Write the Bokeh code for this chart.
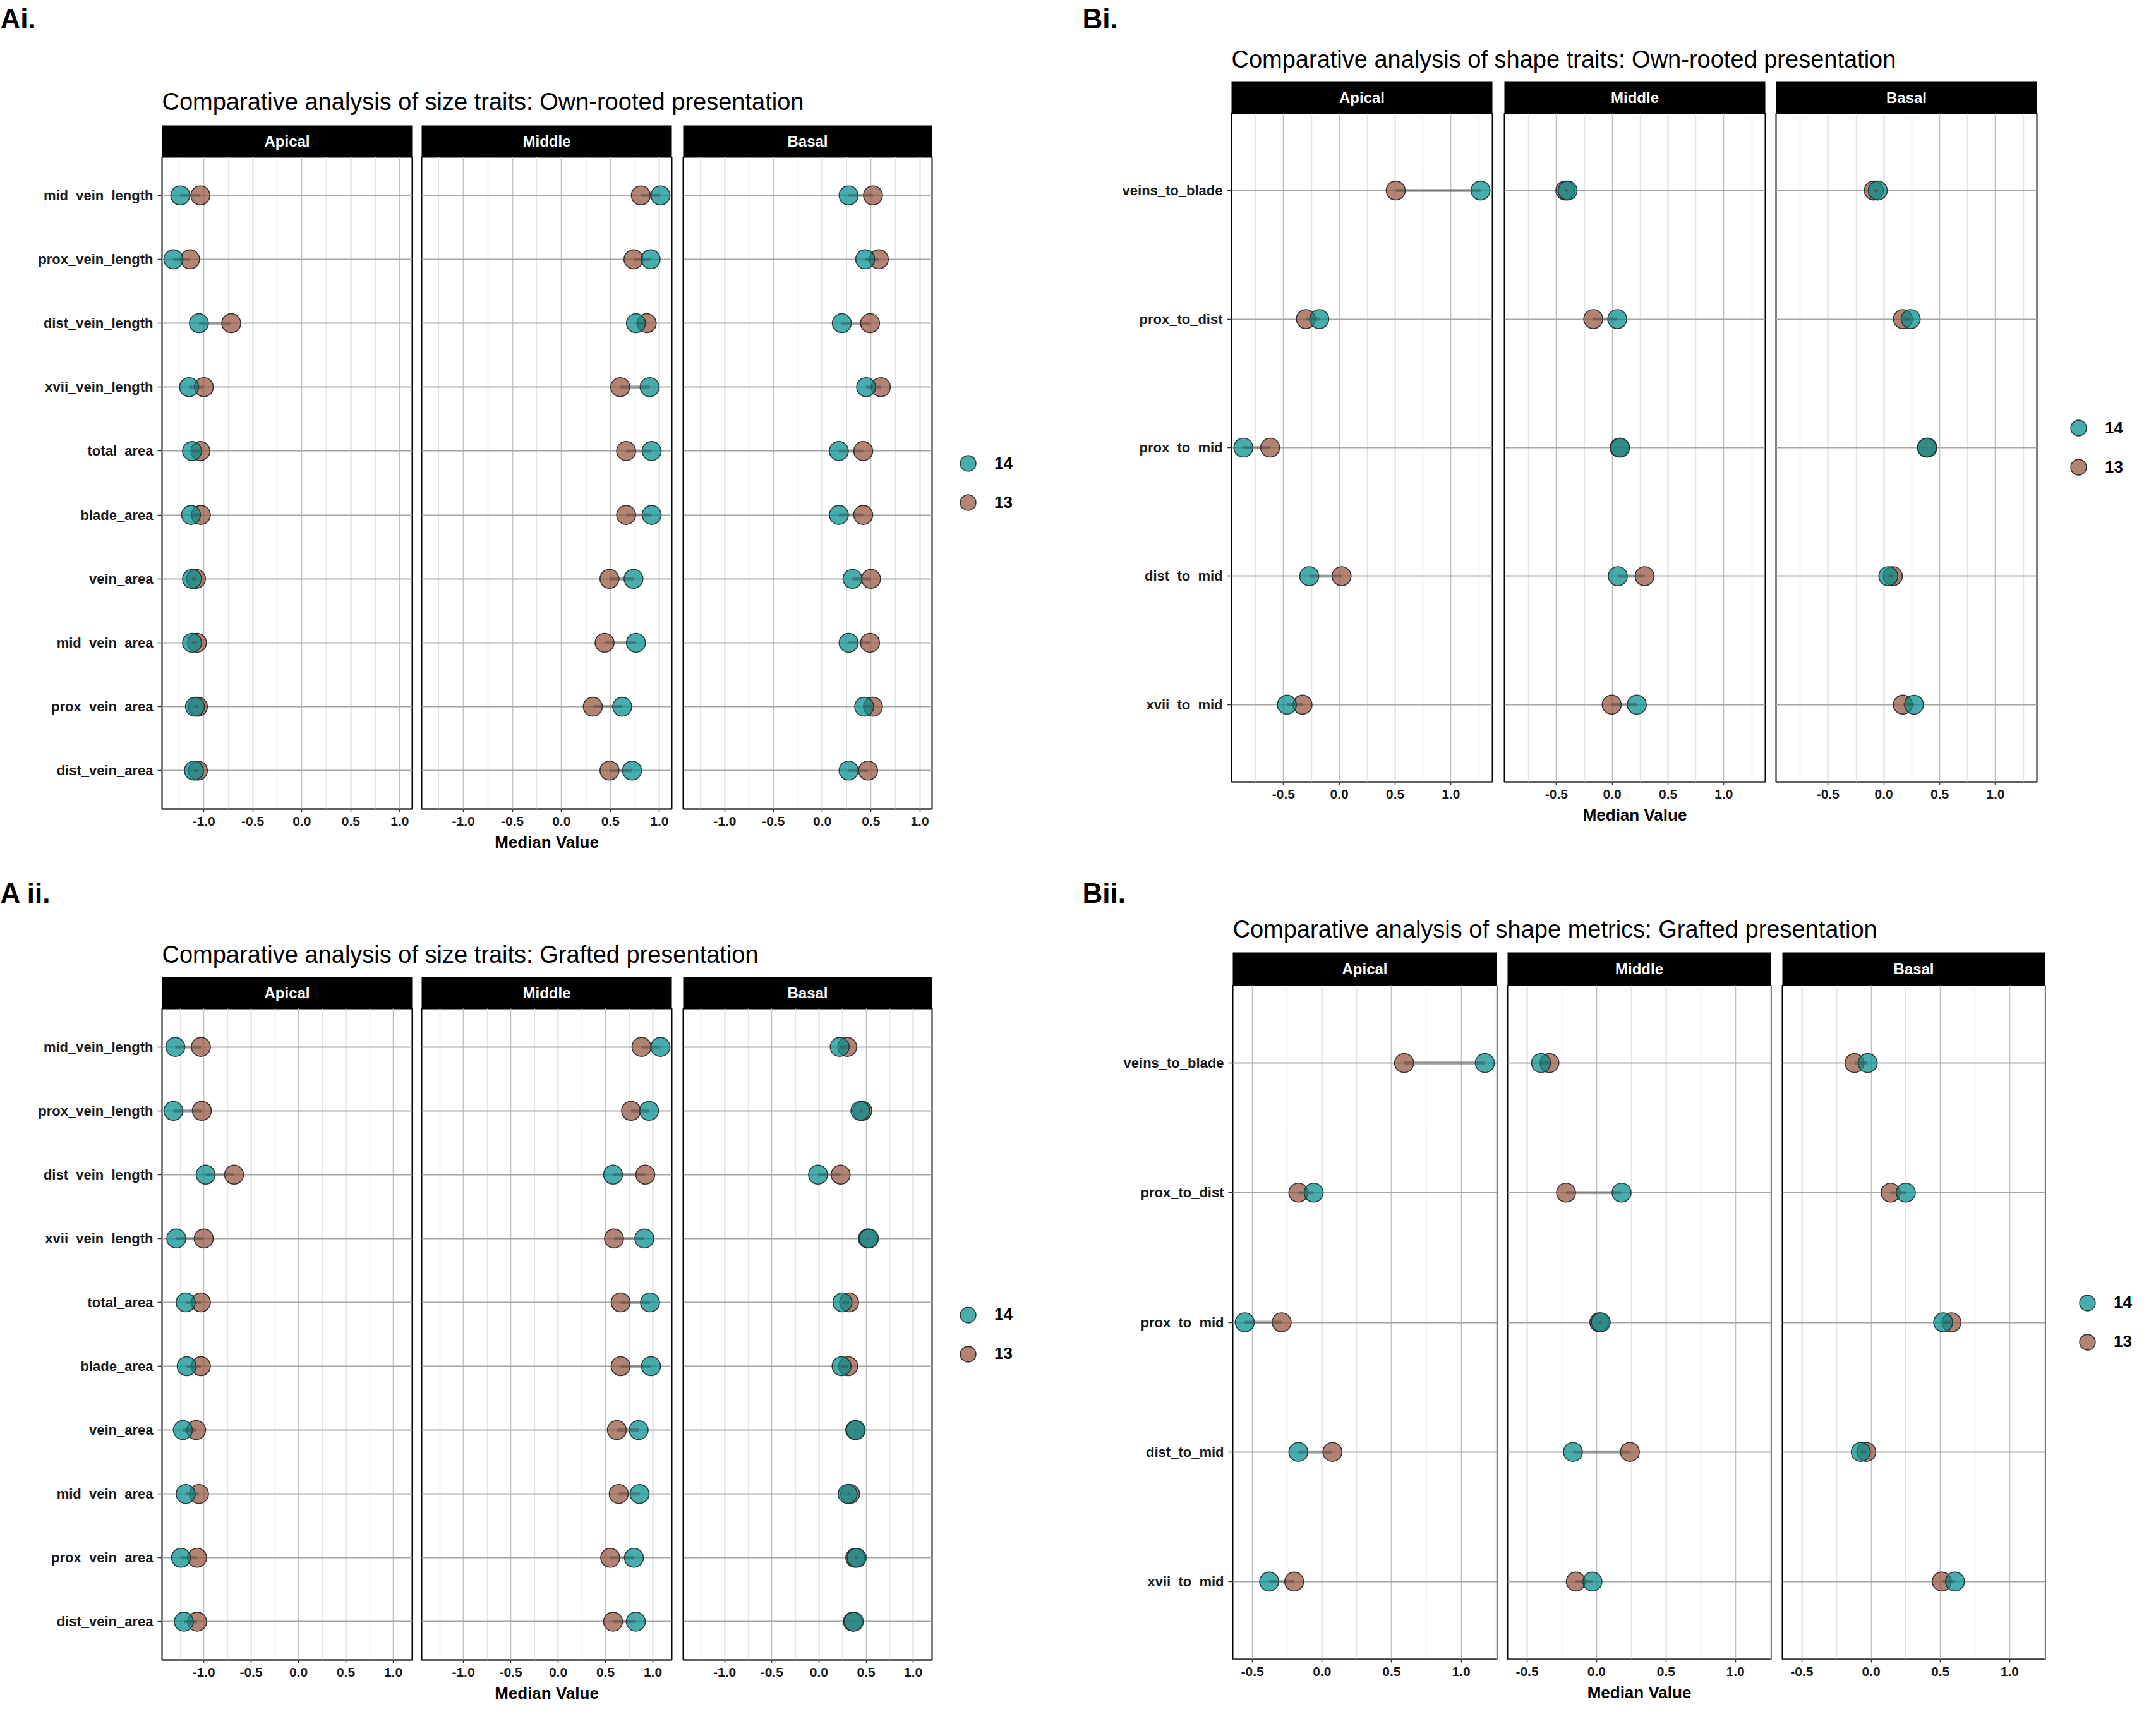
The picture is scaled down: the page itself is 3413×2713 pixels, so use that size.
from bokeh.plotting import figure
from bokeh.layouts import row, column
from bokeh.models import (ColumnDataSource, FactorRange, Range1d, Label, Legend,
                          LegendItem, SingleIntervalTicker, PrintfTickFormatter)
from bokeh.embed import file_html
from bokeh.resources import INLINE

FONT = "Liberation Sans"
TEAL = "#008E8E"
BROWN = "#96553F"
NAN = float("nan")

# ---------------- data ----------------
positions = ["Apical", "Middle", "Basal"]
groups = ["14", "13"]

size_traits = ["mid_vein_length", "prox_vein_length", "dist_vein_length", "xvii_vein_length",
               "total_area", "blade_area", "vein_area", "mid_vein_area", "prox_vein_area",
               "dist_vein_area"]
shape_traits = ["veins_to_blade", "prox_to_dist", "prox_to_mid", "dist_to_mid", "xvii_to_mid"]

# Ai: size traits, own-rooted
ai_apical_14 = [-1.24, -1.31, -1.05, -1.15, -1.12, -1.13, -1.12, -1.12, -1.09, -1.10]
ai_apical_13 = [-1.035, -1.14, -0.72, -1.00, -1.035, -1.03, -1.08, -1.07, -1.06, -1.06]
ai_middle_14 = [1.01, 0.91, 0.76, 0.90, 0.92, 0.92, 0.735, 0.76, 0.62, 0.72]
ai_middle_13 = [0.81, 0.735, 0.87, 0.60, 0.66, 0.66, 0.49, 0.44, 0.32, 0.49]
ai_basal_14 = [0.27, 0.44, 0.20, 0.45, 0.17, 0.17, 0.31, 0.27, 0.43, 0.27]
ai_basal_13 = [0.52, 0.58, 0.49, 0.60, 0.42, 0.42, 0.50, 0.49, 0.52, 0.47]

# Aii: size traits, grafted
aii_apical_14 = [-1.30, -1.32, -0.98, -1.29, -1.19, -1.18, -1.22, -1.19, -1.24, -1.21]
aii_apical_13 = [-1.03, -1.02, -0.68, -1.00, -1.03, -1.03, -1.08, -1.05, -1.07, -1.07]
aii_middle_14 = [1.08, 0.96, 0.58, 0.91, 0.97, 0.98, 0.85, 0.86, 0.80, 0.82]
aii_middle_13 = [0.88, 0.77, 0.92, 0.59, 0.66, 0.66, 0.62, 0.64, 0.55, 0.58]
aii_basal_14 = [0.22, 0.44, -0.01, 0.53, 0.25, 0.24, 0.39, 0.305, 0.40, 0.37]
aii_basal_13 = [0.30, 0.46, 0.23, 0.52, 0.32, 0.31, 0.385, 0.33, 0.385, 0.36]

# Bi: shape traits, own-rooted
bi_apical_14 = [1.265, -0.18, -0.86, -0.27, -0.47]
bi_apical_13 = [0.505, -0.30, -0.62, 0.02, -0.33]
bi_middle_14 = [-0.40, 0.045, 0.07, 0.05, 0.22]
bi_middle_13 = [-0.42, -0.17, 0.065, 0.29, -0.005]
bi_basal_14 = [-0.055, 0.24, 0.385, 0.04, 0.27]
bi_basal_13 = [-0.09, 0.17, 0.39, 0.08, 0.17]

# Bii: shape metrics, grafted
bii_apical_14 = [1.17, -0.06, -0.555, -0.17, -0.38]
bii_apical_13 = [0.59, -0.17, -0.29, 0.075, -0.20]
bii_middle_14 = [-0.40, 0.18, 0.03, -0.17, -0.03]
bii_middle_13 = [-0.34, -0.22, 0.02, 0.24, -0.15]
bii_basal_14 = [-0.025, 0.25, 0.52, -0.075, 0.605]
bii_basal_13 = [-0.12, 0.14, 0.58, -0.035, 0.51]

STYLE = {
    "14": dict(fill_color=TEAL, fill_alpha=0.72, line_color="#1c2e2e", line_alpha=0.9,
               line_width=1.6),
    "13": dict(fill_color=BROWN, fill_alpha=0.72, line_color="#222222", line_alpha=0.9,
               line_width=1.6),
}


def hide_grids(fig):
    for g in fig.grid:
        g.grid_line_color = None
        g.minor_grid_line_color = None
        g.visible = False


def blank_fig(width, height, xr, yr, **kw):
    f = figure(width=width, height=height, x_range=xr, y_range=yr,
               x_axis_location=None, y_axis_location=None, toolbar_location=None,
               output_backend="svg", outline_line_color=None, **kw)
    hide_grids(f)
    return f


def make_block(letter, title, traits, data, geo):
    allv = [v for pos in positions for arr in data[pos] for v in arr]
    lo, hi = min(allv), max(allv)
    pad = 0.05 * (hi - lo)
    x0, x1 = lo - pad, hi + pad

    W = geo["width"]
    header = blank_fig(W, geo["header_h"], Range1d(0, W), Range1d(geo["header_h"], 0),
                       min_border=0)
    header.add_layout(Label(x=geo["letter_x"], y=geo["letter_y"], text=letter,
                            text_font=FONT, text_font_style="bold", text_font_size="44px",
                            text_color="black", text_baseline="middle"))
    header.add_layout(Label(x=geo["title_x"], y=geo["title_y"], text=title,
                            text_font=FONT, text_font_size="38px", text_color="black",
                            text_baseline="middle"))

    strips, facets = [], []
    fig_h = geo["frame_h"] + geo["bottom"]
    for i, pos in enumerate(positions):
        bl, fw, br = geo["cols"][i]
        w = bl + fw + br
        xr = Range1d(x0, x1)
        v14, v13 = data[pos]
        src = ColumnDataSource(dict(trait=traits, v14=v14, v13=v13))

        s = blank_fig(w, geo["strip_h"], xr, Range1d(0, 1),
                      min_border_left=bl, min_border_right=br,
                      min_border_top=0, min_border_bottom=0,
                      background_fill_color="black", border_fill_color="white")
        s.add_layout(Label(x=(x0 + x1) / 2, y=0.5, text=pos, text_align="center",
                           text_baseline="middle", text_color="white", text_font=FONT,
                           text_font_style="bold", text_font_size="24px"))
        strips.append(s)

        yr = FactorRange(factors=traits[::-1], range_padding=0.2 / len(traits),
                         range_padding_units="percent")
        p = figure(width=w, height=fig_h, x_range=xr, y_range=yr,
                   toolbar_location=None, output_backend="svg",
                   min_border_left=bl, min_border_right=br, min_border_top=0,
                   min_border_bottom=geo["bottom"], background_fill_color="white",
                   border_fill_color="white", outline_line_color="black",
                   outline_line_width=2)
        p.xaxis.ticker = SingleIntervalTicker(interval=0.5, num_minor_ticks=2)
        p.xaxis.formatter = PrintfTickFormatter(format="%.1f")
        p.xaxis.major_label_text_font = FONT
        p.xaxis.major_label_text_font_style = "bold"
        p.xaxis.major_label_text_font_size = "21px"
        p.xaxis.major_label_text_color = "#1a1a1a"
        p.xaxis.minor_tick_line_color = None
        p.xaxis.major_tick_in = 0
        p.xaxis.major_tick_out = 5
        p.xaxis.major_tick_line_color = "#333333"
        p.xaxis.major_tick_line_width = 1.5
        p.xaxis.axis_line_color = "#444444"
        p.xaxis.axis_line_width = 2
        p.xaxis.major_label_standoff = 7
        if i == 1:
            p.xaxis.axis_label = "Median Value"
            p.xaxis.axis_label_text_font = FONT
            p.xaxis.axis_label_text_font_style = "bold"
            p.xaxis.axis_label_text_font_size = "26px"
            p.xaxis.axis_label_text_color = "black"
            p.xaxis.axis_label_standoff = 8
        if i == 0:
            p.yaxis.major_label_text_font = FONT
            p.yaxis.major_label_text_font_style = "bold"
            p.yaxis.major_label_text_font_size = "22px"
            p.yaxis.major_label_text_color = "#1a1a1a"
            p.yaxis.major_tick_in = 0
            p.yaxis.major_tick_out = 7
            p.yaxis.major_tick_line_color = "#333333"
            p.yaxis.major_tick_line_width = 1.5
            p.yaxis.axis_line_color = None
            p.yaxis.major_label_standoff = 7
        else:
            p.yaxis.visible = False

        p.xgrid.grid_line_color = "#c2c2c2"
        p.xgrid.grid_line_width = 1.5
        p.xgrid.minor_grid_line_color = "#e4e4e4"
        p.xgrid.minor_grid_line_width = 1.5
        p.ygrid.grid_line_color = "#a6a6a6"
        p.ygrid.grid_line_width = 2

        p.scatter("v13", "trait", source=src, size=30, **STYLE["13"])
        p.scatter("v14", "trait", source=src, size=30, **STYLE["14"])
        p.segment(x0="v13", y0="trait", x1="v14", y1="trait", source=src,
                  line_color="#404040", line_alpha=0.4, line_width=5)
        facets.append(p)

    # legend panel to the right of the last facet (frame aligned with the facets' frames)
    lw = geo["legend_w"]
    lf = blank_fig(lw, fig_h, Range1d(0, 1), Range1d(0, 1), min_border_left=0,
                   min_border_right=0, min_border_top=0, min_border_bottom=geo["bottom"],
                   background_fill_color="white", border_fill_color="white")
    lr = {g: lf.scatter(x=[NAN], y=[NAN], size=30, **STYLE[g]) for g in groups}
    legend = Legend(items=[LegendItem(label=g, renderers=[lr[g]]) for g in groups],
                    location="left", margin=geo["legend_x"], padding=8,
                    glyph_width=64, glyph_height=62, spacing=0,
                    label_standoff=10, label_text_font=FONT,
                    label_text_font_style="bold", label_text_font_size="26px",
                    label_text_color="black", border_line_color=None,
                    background_fill_alpha=0)
    lf.add_layout(legend)
    facets.append(lf)

    return column(header, row(*strips), row(*facets))


ai = make_block("Ai.", "Comparative analysis of size traits: Own-rooted presentation",
                size_traits,
                {"Apical": (ai_apical_14, ai_apical_13),
                 "Middle": (ai_middle_14, ai_middle_13),
                 "Basal": (ai_basal_14, ai_basal_13)},
                dict(width=1700, header_h=198, letter_x=0, letter_y=29, title_x=256,
                     title_y=160, strip_h=50, frame_h=1032, bottom=90,
                     cols=[(256, 396, 7), (8, 396, 9), (9, 394, 9)],
                     legend_w=216, legend_x=16))

aii = make_block("A ii.", "Comparative analysis of size traits: Grafted presentation",
                 size_traits,
                 {"Apical": (aii_apical_14, aii_apical_13),
                  "Middle": (aii_middle_14, aii_middle_13),
                  "Basal": (aii_basal_14, aii_basal_13)},
                 dict(width=1700, header_h=176, letter_x=0, letter_y=43, title_x=256,
                      title_y=140, strip_h=50, frame_h=1031, bottom=74,
                      cols=[(256, 396, 7), (8, 396, 9), (9, 394, 9)],
                      legend_w=216, legend_x=16))

bi = make_block("Bi.", "Comparative analysis of shape traits: Own-rooted presentation",
                shape_traits,
                {"Apical": (bi_apical_14, bi_apical_13),
                 "Middle": (bi_middle_14, bi_middle_13),
                 "Basal": (bi_basal_14, bi_basal_13)},
                dict(width=1700, header_h=129, letter_x=13, letter_y=29, title_x=249,
                     title_y=93, strip_h=50, frame_h=1058, bottom=93,
                     cols=[(249, 413, 9), (10, 413, 9), (8, 413, 9)],
                     legend_w=167, legend_x=25))

bii = make_block("Bii.", "Comparative analysis of shape metrics: Grafted presentation",
                 shape_traits,
                 {"Apical": (bii_apical_14, bii_apical_13),
                  "Middle": (bii_middle_14, bii_middle_13),
                  "Basal": (bii_basal_14, bii_basal_13)},
                 dict(width=1700, header_h=177, letter_x=13, letter_y=83, title_x=251,
                      title_y=140, strip_h=52, frame_h=1067, bottom=75,
                      cols=[(251, 418, 9), (8, 417, 9), (9, 416, 9)],
                      legend_w=154, legend_x=26))

layout = row(column(ai, aii), column(bi, bii))

open("out.html", "w").write(file_html(layout, INLINE, title="Comparative analysis"))
